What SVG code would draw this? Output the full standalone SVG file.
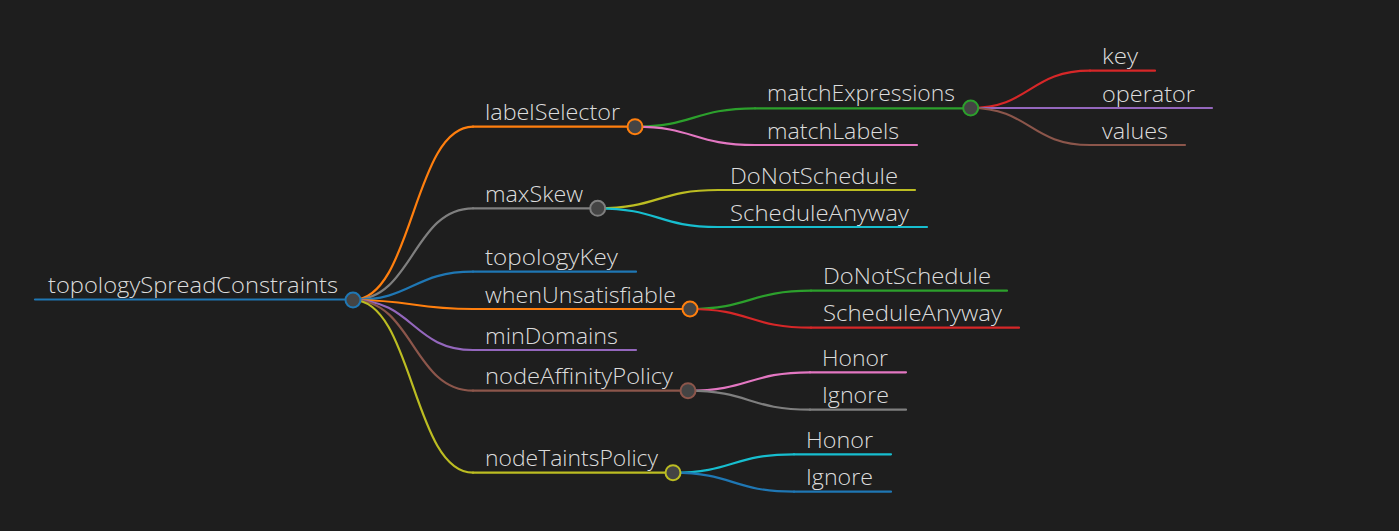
<svg xmlns="http://www.w3.org/2000/svg" width="1399" height="531" viewBox="0 0 1399 531">
<style>
.t{font-family:"Open Sans","Noto Sans","Liberation Sans",sans-serif;font-weight:300;font-size:22.5px;fill:#dcdcdc}
.l{fill:none;stroke-width:2.2;stroke-linecap:round}
.c{fill:#444;stroke-width:2}
.blue{stroke:#1f77b4}.orange{stroke:#ff7f0e}.green{stroke:#2ca02c}.red{stroke:#d62728}.purple{stroke:#9467bd}.brown{stroke:#8c564b}.pink{stroke:#e377c2}.gray{stroke:#7f7f7f}.olive{stroke:#bcbd22}.cyan{stroke:#17becf}
</style>
<rect width="1399" height="531" fill="#1e1e1e"/>
<g id="connectors">
<path class="l orange" d="M353,300 C413,300 413,126.7 473,126.7"/>
<path class="l gray" d="M353,300 C413,300 413,208.3 473,208.3"/>
<path class="l blue" d="M353,300 C413,300 413,271.7 473,271.7"/>
<path class="l orange" d="M353,300 C413,300 413,309 473,309"/>
<path class="l purple" d="M353,300 C413,300 413,350 473,350"/>
<path class="l brown" d="M353,300 C413,300 413,390.7 473,390.7"/>
<path class="l olive" d="M353,300 C413,300 413,472.7 473,472.7"/>
<path class="l green" d="M635,126.7 C694,126.7 694,108.3 755,108.3"/>
<path class="l pink" d="M635,126.7 C694,126.7 694,145 755,145"/>
<path class="l olive" d="M597.7,208.3 C658,208.3 658,190 718,190"/>
<path class="l cyan" d="M597.7,208.3 C658,208.3 658,227 718,227"/>
<path class="l red" d="M970.7,108 C1030,108 1030,70.7 1090,70.7"/>
<path class="l purple" d="M970.7,108 C1030,108 1030,108 1090,108"/>
<path class="l brown" d="M970.7,108 C1030,108 1030,145 1090,145"/>
<path class="l green" d="M690,309 C750,309 750,290.7 811,290.7"/>
<path class="l red" d="M690,309 C750,309 750,327.7 811,327.7"/>
<path class="l pink" d="M688,390.7 C749,390.7 749,372.3 810,372.3"/>
<path class="l gray" d="M688,390.7 C749,390.7 749,409.7 810,409.7"/>
<path class="l cyan" d="M673,472.7 C733,472.7 733,454.3 794,454.3"/>
<path class="l blue" d="M673,472.7 C733,472.7 733,491.7 794,491.7"/>
</g>
<g id="root"><path class="l blue" d="M35,299.5 H353"/><text class="t" x="48" y="293" textLength="290" lengthAdjust="spacingAndGlyphs">topologySpreadConstraints</text><circle class="c blue" cx="353" cy="300" r="7.5"/></g>
<g id="labelSelector"><path class="l orange" d="M473,126.7 H635"/><text class="t" x="485" y="120.3" textLength="135" lengthAdjust="spacingAndGlyphs">labelSelector</text><circle class="c orange" cx="635" cy="126.7" r="7.5"/></g>
<g id="maxSkew"><path class="l gray" d="M473,208.3 H597.7"/><text class="t" x="485" y="201.8" textLength="98" lengthAdjust="spacingAndGlyphs">maxSkew</text><circle class="c gray" cx="597.7" cy="208.3" r="7.5"/></g>
<g id="topologyKey"><path class="l blue" d="M473,271.7 H636"/><text class="t" x="485" y="265.2" textLength="133" lengthAdjust="spacingAndGlyphs">topologyKey</text></g>
<g id="whenUnsatisfiable"><path class="l orange" d="M473,309 H690"/><text class="t" x="485" y="302.5" textLength="191" lengthAdjust="spacingAndGlyphs">whenUnsatisfiable</text><circle class="c orange" cx="690" cy="309" r="7.5"/></g>
<g id="minDomains"><path class="l purple" d="M473,350 H636"/><text class="t" x="485" y="343.5" textLength="133" lengthAdjust="spacingAndGlyphs">minDomains</text></g>
<g id="nodeAffinityPolicy"><path class="l brown" d="M473,390.7 H688"/><text class="t" x="485" y="384.2" textLength="188" lengthAdjust="spacingAndGlyphs">nodeAffinityPolicy</text><circle class="c brown" cx="688" cy="390.7" r="7.5"/></g>
<g id="nodeTaintsPolicy"><path class="l olive" d="M473,472.7 H673"/><text class="t" x="485" y="466.2" textLength="173" lengthAdjust="spacingAndGlyphs">nodeTaintsPolicy</text><circle class="c olive" cx="673" cy="472.7" r="7.5"/></g>
<g id="matchExpressions"><path class="l green" d="M755,108.3 H970.7"/><text class="t" x="767" y="101.3" textLength="188" lengthAdjust="spacingAndGlyphs">matchExpressions</text><circle class="c green" cx="970.7" cy="108" r="7.5"/></g>
<g id="matchLabels"><path class="l pink" d="M755,145 H917"/><text class="t" x="767" y="138.5" textLength="132" lengthAdjust="spacingAndGlyphs">matchLabels</text></g>
<g id="maxSkew-DoNotSchedule"><path class="l olive" d="M718,190 H915"/><text class="t" x="730" y="183.5" textLength="168" lengthAdjust="spacingAndGlyphs">DoNotSchedule</text></g>
<g id="maxSkew-ScheduleAnyway"><path class="l cyan" d="M718,227 H927"/><text class="t" x="730" y="220.5" textLength="179" lengthAdjust="spacingAndGlyphs">ScheduleAnyway</text></g>
<g id="key"><path class="l red" d="M1090,70.7 H1155"/><text class="t" x="1102" y="64.2" textLength="36" lengthAdjust="spacingAndGlyphs">key</text></g>
<g id="operator"><path class="l purple" d="M1090,108 H1212"/><text class="t" x="1102" y="101.5" textLength="93" lengthAdjust="spacingAndGlyphs">operator</text></g>
<g id="values"><path class="l brown" d="M1090,145 H1185"/><text class="t" x="1102" y="138.5" textLength="66" lengthAdjust="spacingAndGlyphs">values</text></g>
<g id="whenUnsatisfiable-DoNotSchedule"><path class="l green" d="M811,290.7 H1007"/><text class="t" x="823" y="284.2" textLength="168" lengthAdjust="spacingAndGlyphs">DoNotSchedule</text></g>
<g id="whenUnsatisfiable-ScheduleAnyway"><path class="l red" d="M811,327.7 H1019"/><text class="t" x="823" y="321.2" textLength="179" lengthAdjust="spacingAndGlyphs">ScheduleAnyway</text></g>
<g id="nodeAffinityPolicy-Honor"><path class="l pink" d="M810,372.3 H906"/><text class="t" x="822" y="365.8" textLength="66" lengthAdjust="spacingAndGlyphs">Honor</text></g>
<g id="nodeAffinityPolicy-Ignore"><path class="l gray" d="M810,409.7 H906"/><text class="t" x="822" y="403.2" textLength="67" lengthAdjust="spacingAndGlyphs">Ignore</text></g>
<g id="nodeTaintsPolicy-Honor"><path class="l cyan" d="M794,454.3 H891"/><text class="t" x="806" y="447.8" textLength="67" lengthAdjust="spacingAndGlyphs">Honor</text></g>
<g id="nodeTaintsPolicy-Ignore"><path class="l blue" d="M794,491.7 H891"/><text class="t" x="806" y="485.2" textLength="67" lengthAdjust="spacingAndGlyphs">Ignore</text></g>
</svg>
